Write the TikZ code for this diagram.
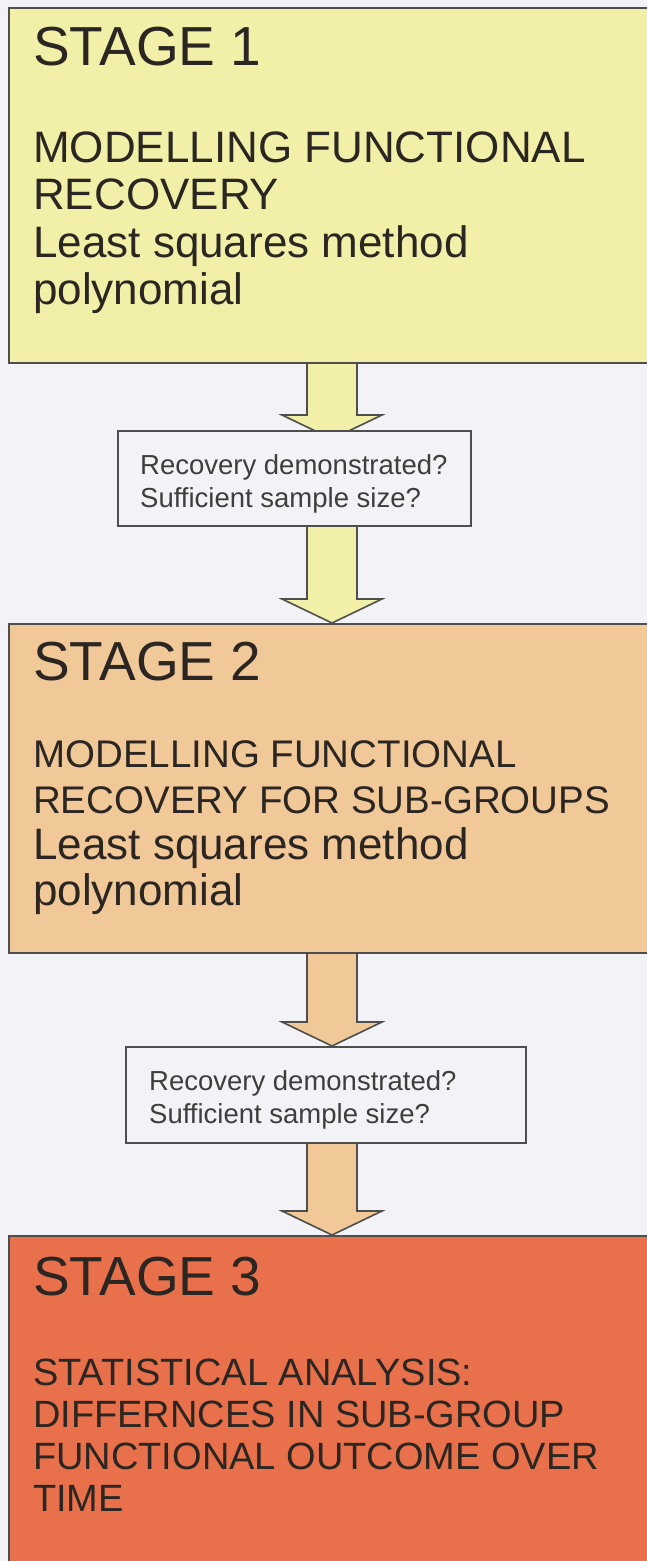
\documentclass[tikz,border=0pt]{standalone}
\usepackage{fontspec}
\setmainfont{Liberation Sans}
\usetikzlibrary{calc}
\pgfdeclarelayer{background}
\pgfsetlayers{background,main}

\definecolor{pagebg}{HTML}{F3F2F6}
\definecolor{stageone}{HTML}{F2F0A8}
\definecolor{stagetwo}{HTML}{F1C898}
\definecolor{stagethree}{HTML}{E8714B}
\definecolor{edge}{HTML}{4E4E4E}
\definecolor{ink}{HTML}{2B2622}
\definecolor{qink}{HTML}{3E3E3E}

% multi-line nodes are placed by the baseline of their last line
\tikzset{
  stagebox/.style={draw=edge, line width=1.8pt, rectangle, inner sep=0pt, anchor=north west},
  checkbox/.style={draw=edge, line width=1.6pt, fill=pagebg, rectangle, inner sep=0pt, anchor=north west},
  title/.style={anchor=base west, inner sep=0pt, text=ink, font=\fontsize{55}{60}\selectfont},
  body/.style={anchor=base west, inner sep=0pt, text=ink, align=left},
  question/.style={anchor=base west, inner sep=0pt, text=qink, align=left,
                   font=\fontsize{27.5}{33}\selectfont},
  arrowline/.style={draw=edge, line width=1.6pt, line join=miter},
}

% block arrow: source node, target node, fill colour, how far the tip runs under the target
\newcommand\blockarrow[4]{%
  \draw[arrowline, fill=#3]
    ($(ax |- #1.south)+(-25pt,4pt)$) --
    ($(ax |- #2.north)+(-25pt,24pt-#4)$) --
    ($(ax |- #2.north)+(-50pt,24pt-#4)$) --
    ($(ax |- #2.north)+(0pt,-#4)$) --
    ($(ax |- #2.north)+(50pt,24pt-#4)$) --
    ($(ax |- #2.north)+(25pt,24pt-#4)$) --
    ($(ax |- #1.south)+(25pt,4pt)$);
}

\begin{document}
\begin{tikzpicture}[x=1pt, y=-1pt]
  \useasboundingbox (0,0) rectangle (647,1561);
  \begin{pgfonlayer}{background}
    \fill[pagebg] (0,0) rectangle (647,1561);
  \end{pgfonlayer}

  % stage panels and the check boxes between them
  \node[stagebox, fill=stageone, minimum width=660pt, minimum height=355pt] (st1) at (8,7) {};
  \node[checkbox, minimum width=353pt, minimum height=95pt] (q1) at (117,430) {};
  \node[stagebox, fill=stagetwo, minimum width=660pt, minimum height=329pt] (st2) at (8,623) {};
  \node[checkbox, minimum width=400pt, minimum height=96pt] (q2) at (125,1046) {};
  \node[stagebox, fill=stagethree, minimum width=660pt, minimum height=340pt] (st3) at (8,1235) {};

  % texts
  \node[title] (t1) at (33,65) {STAGE 1};
  \node[body, font=\fontsize{44}{47.5}\selectfont] (b1) at (33,304.5)
    {MODELLING FUNCTIONAL\\RECOVERY\\Least squares method\\polynomial};
  \node[question] (qt1) at (140,507) {Recovery demonstrated?\\Sufficient sample size?};

  \node[title] (t2) at (33,680) {STAGE 2};
  \node[body, font=\fontsize{38.5}{46}\selectfont] (b2) at (33,905)
    {\fontsize{38.5}{46}\selectfont MODELLING FUNCTIONAL\\
     \fontsize{38.5}{46}\selectfont RECOVERY FOR SUB-GROUPS\\
     \fontsize{44}{46}\selectfont Least squares method\\
     \fontsize{44}{46}\selectfont polynomial};
  \node[question] (qt2) at (149,1123) {Recovery demonstrated?\\Sufficient sample size?};

  \node[title] (t3) at (33,1295) {STAGE 3};
  \node[body, font=\fontsize{38}{42}\selectfont] (b3) at (33,1511)
    {STATISTICAL ANALYSIS:\\DIFFERNCES IN SUB-GROUP\\FUNCTIONAL OUTCOME OVER\\TIME};

  % connecting block arrows, kept behind the boxes
  \coordinate (ax) at (332,0);
  \begin{pgfonlayer}{background}
    \blockarrow{st1}{q1}{stageone}{9pt}
    \blockarrow{q1}{st2}{stageone}{0pt}
    \blockarrow{st2}{q2}{stagetwo}{0pt}
    \blockarrow{q2}{st3}{stagetwo}{0pt}
  \end{pgfonlayer}
\end{tikzpicture}
\end{document}
